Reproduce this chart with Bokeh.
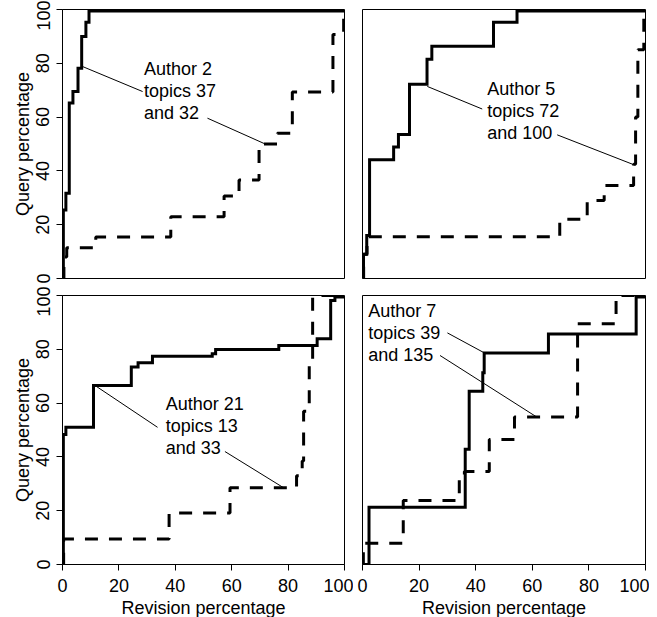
from bokeh.plotting import figure
from bokeh.models import Range1d, FixedTicker
from bokeh.layouts import column, row
from bokeh.embed import file_html
from bokeh.resources import INLINE
from bokeh.core.properties import value

FONT = "Liberation Sans"

# ---------------- data ----------------
tick_values = [0, 20, 40, 60, 80, 100]
x_title = "Revision percentage"
y_title = "Query percentage"

# Panel 1: Author 2, topics 37 and 32
a2_label = "Author 2\ntopics 37\nand 32"
a2_solid_x = [0, 0.3, 1.2, 2.4, 3.7, 5.5, 6.8, 8.3, 9.4, 100]
a2_solid_y = [0, 25.5, 31.7, 65.2, 69.5, 78.2, 90.0, 95.3, 99.4, 99.4]
a2_dash_x = [0, 0.5, 1.5, 11.8, 38.4, 57.3, 62.6, 69.7, 76.2, 81.5, 95.9, 99.7, 100]
a2_dash_y = [0, 8.0, 11.4, 15.4, 23.0, 30.7, 36.6, 50.0, 54.0, 69.3, 90.7, 100, 100]

# Panel 2: Author 5, topics 72 and 100
a5_label = "Author 5\ntopics 72\nand 100"
a5_solid_x = [0, 0.35, 1.5, 2.5, 11.0, 12.7, 16.6, 22.8, 24.5, 46.3, 54.6, 100]
a5_solid_y = [0, 9.0, 16.0, 44.1, 48.9, 53.5, 72.2, 81.5, 86.3, 95.3, 99.4, 99.4]
a5_dash_x = [0, 0.4, 1.6, 69.7, 79.4, 85.4, 95.8, 96.5, 97.3, 99.4, 100]
a5_dash_y = [0, 9.0, 15.5, 22.0, 29.0, 34.6, 42.5, 60.0, 85.0, 100, 100]

# Panel 3: Author 21, topics 13 and 33
a21_label = "Author 21\ntopics 13\nand 33"
a21_solid_x = [0, 0.3, 1.2, 11.0, 24.4, 26.8, 31.9, 53.1, 54.3, 76.7, 90.3, 95.1, 96.6, 100]
a21_solid_y = [0, 48.3, 51.0, 66.5, 73.4, 75.0, 77.4, 78.3, 79.9, 81.4, 83.9, 98.1, 99.4, 99.4]
a21_dash_x = [0, 0.4, 37.8, 59.4, 83.0, 85.0, 85.5, 87.5, 88.7, 100]
a21_dash_y = [0, 9.5, 19.1, 28.5, 33.0, 38.5, 57.0, 76.0, 100, 100]

# Panel 4: Author 7, topics 39 and 135
a7_label = "Author 7\ntopics 39\nand 135"
a7_solid_x = [0, 2.3, 36.3, 37.7, 42.5, 43.0, 65.7, 96.7, 100]
a7_solid_y = [0, 21.3, 42.8, 64.4, 71.3, 78.6, 85.7, 99.4, 99.4]
a7_dash_x = [0, 0.3, 14.4, 34.2, 36.0, 44.8, 53.7, 76.0, 89.6, 100]
a7_dash_y = [0, 7.9, 23.8, 31.8, 34.6, 46.5, 54.8, 89.5, 100, 100]

# label anchors (top-left of text block) and callout segments (data coords)
a2_text_xy = (28.9, 81.7)
a2_call = ([7.1, 51.4], [78.8, 59.6], [28.4, 72.1], [69.5, 49.9])
a5_text_xy = (44.1, 74.3)
a5_call = ([22.9, 68.8], [71.4, 53.4], [42.3, 96.1], [63.0, 42.2])
a21_text_xy = (36.6, 63.3)
a21_call = ([11.6, 57.6], [66.5, 42.0], [33.7, 78.6], [51.0, 28.4])
a7_text_xy = (2.0, 98.0)
a7_call = ([30.0, 27.4], [86.1, 77.7], [43.0, 61.3], [78.7, 55.0])


def make_panel(sx, sy, dx, dy, label, txy, call, left, bottom, fw, mb):
    p = figure(frame_width=fw, frame_height=269,
               x_range=Range1d(0, 100), y_range=Range1d(0, 100),
               x_axis_location="below" if bottom else None,
               y_axis_location="left" if left else None,
               output_backend="svg", toolbar_location=None, tools="",
               min_border_left=mb[0], min_border_right=mb[1],
               min_border_top=mb[2], min_border_bottom=mb[3])
    p.grid.visible = False
    p.outline_line_color = "black"
    p.outline_line_width = 1
    p.background_fill_color = "white"
    p.border_fill_color = "white"
    for ax in list(p.xaxis) + list(p.yaxis):
        ax.ticker = FixedTicker(ticks=tick_values)
        ax.major_tick_out = 6
        ax.major_tick_in = 0
        ax.minor_tick_out = 0
        ax.minor_tick_in = 0
        ax.axis_line_color = "black"
        ax.major_tick_line_color = "black"
        ax.major_label_text_font = FONT
        ax.major_label_text_font_size = "18px"
        ax.major_label_text_color = "black"
        ax.axis_label_text_font = FONT
        ax.axis_label_text_font_size = "18px"
        ax.axis_label_text_font_style = "normal"
        ax.axis_label_text_color = "black"
    for ax in p.xaxis:
        ax.axis_label = x_title
        ax.major_label_standoff = 8
        ax.axis_label_standoff = 3
    for ax in p.yaxis:
        ax.axis_label = y_title
        ax.major_label_orientation = "vertical"
        ax.major_label_standoff = 7
        ax.axis_label_standoff = 1
    p.step(sx, sy, mode="after", line_width=3, line_color="black", line_join="miter")
    p.step(dx, dy, mode="after", line_width=3, line_color="black", line_dash="13 11")
    p.segment(x0=call[0], y0=call[1], x1=call[2], y1=call[3], line_width=1, line_color="black")
    p.text(x=[txy[0]], y=[txy[1]], text=[label], text_font=value(FONT),
           text_font_size="18px", text_align="left", text_baseline="top",
           text_line_height=1.1, text_color="black")
    return p


p1 = make_panel(a2_solid_x, a2_solid_y, a2_dash_x, a2_dash_y, a2_label, a2_text_xy, a2_call,
                True, False, 282, (62, 9, 9, 8))
p2 = make_panel(a5_solid_x, a5_solid_y, a5_dash_x, a5_dash_y, a5_label, a5_text_xy, a5_call,
                False, False, 283, (9, 4, 9, 8))
p3 = make_panel(a21_solid_x, a21_solid_y, a21_dash_x, a21_dash_y, a21_label, a21_text_xy, a21_call,
                True, True, 282, (62, 9, 9, 50))
p4 = make_panel(a7_solid_x, a7_solid_y, a7_dash_x, a7_dash_y, a7_label, a7_text_xy, a7_call,
                False, True, 283, (9, 4, 9, 50))

layout = column(row(p1, p2), row(p3, p4))
open("out.html", "w").write(file_html(layout, INLINE))
